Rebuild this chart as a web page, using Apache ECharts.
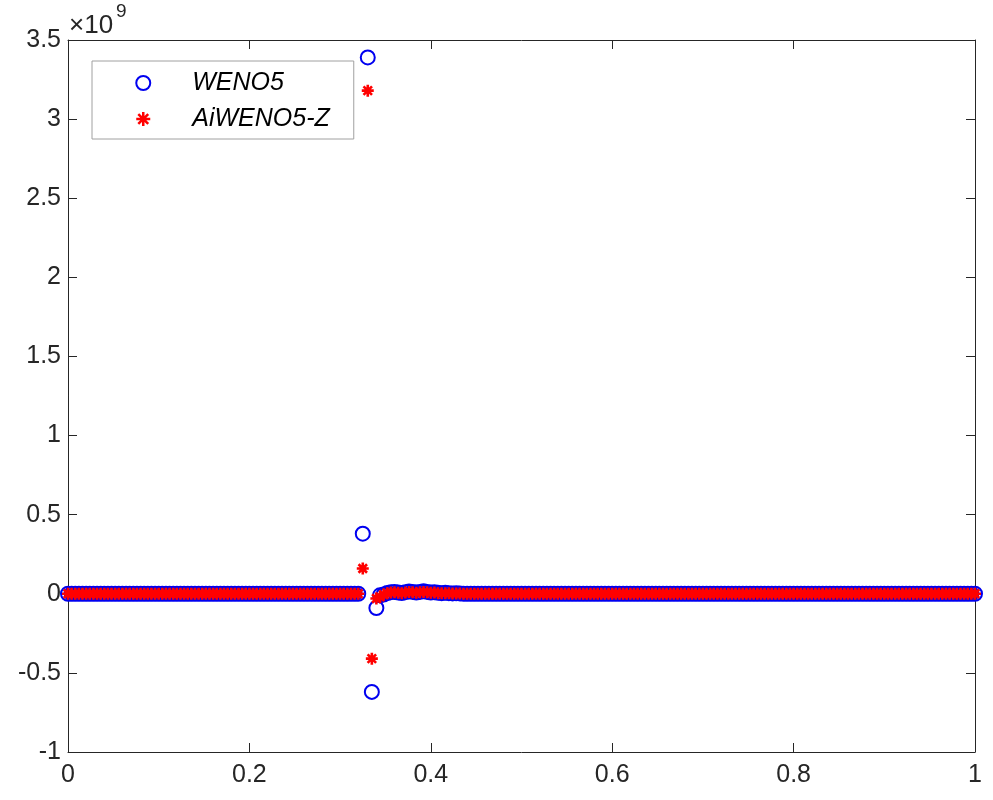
<!DOCTYPE html>
<html>
<head>
<meta charset="utf-8">
<script src="https://cdn.jsdelivr.net/npm/echarts@6/dist/echarts.min.js"></script>
<style>
  html, body { margin: 0; padding: 0; background: #fff; }
  #chart { width: 993px; height: 800px; }
</style>
</head>
<body>
<div id="chart"></div>
<script>
// mesh points (x), band left of shock, points across shock, band right of shock
const meshX = [
  0, 0.004, 0.008, 0.012, 0.016, 0.02, 0.024, 0.028, 0.032, 0.036,
  0.04, 0.044, 0.048, 0.052, 0.056, 0.06, 0.064, 0.068, 0.072, 0.076,
  0.08, 0.084, 0.088, 0.092, 0.096, 0.1, 0.104, 0.108, 0.112, 0.116,
  0.12, 0.124, 0.128, 0.132, 0.136, 0.14, 0.144, 0.148, 0.152, 0.156,
  0.16, 0.164, 0.168, 0.172, 0.176, 0.18, 0.184, 0.188, 0.192, 0.196,
  0.2, 0.204, 0.208, 0.212, 0.216, 0.22, 0.224, 0.228, 0.232, 0.236,
  0.24, 0.244, 0.248, 0.252, 0.256, 0.26, 0.264, 0.268, 0.272, 0.276,
  0.28, 0.284, 0.288, 0.292, 0.296, 0.3, 0.304, 0.308, 0.312, 0.316,
  0.32,
  0.325, 0.3305, 0.335, 0.34,
  0.344, 0.348, 0.352, 0.356, 0.36, 0.364, 0.368, 0.372, 0.376, 0.38,
  0.384, 0.388, 0.392, 0.396, 0.4, 0.404, 0.408, 0.412, 0.416, 0.42,
  0.424, 0.428, 0.432, 0.436, 0.44, 0.444, 0.448, 0.452, 0.456, 0.46,
  0.464, 0.468, 0.472, 0.476, 0.48, 0.484, 0.488, 0.492, 0.496, 0.5,
  0.504, 0.508, 0.512, 0.516, 0.52, 0.524, 0.528, 0.532, 0.536, 0.54,
  0.544, 0.548, 0.552, 0.556, 0.56, 0.564, 0.568, 0.572, 0.576, 0.58,
  0.584, 0.588, 0.592, 0.596, 0.6, 0.604, 0.608, 0.612, 0.616, 0.62,
  0.624, 0.628, 0.632, 0.636, 0.64, 0.644, 0.648, 0.652, 0.656, 0.66,
  0.664, 0.668, 0.672, 0.676, 0.68, 0.684, 0.688, 0.692, 0.696, 0.7,
  0.704, 0.708, 0.712, 0.716, 0.72, 0.724, 0.728, 0.732, 0.736, 0.74,
  0.744, 0.748, 0.752, 0.756, 0.76, 0.764, 0.768, 0.772, 0.776, 0.78,
  0.784, 0.788, 0.792, 0.796, 0.8, 0.804, 0.808, 0.812, 0.816, 0.82,
  0.824, 0.828, 0.832, 0.836, 0.84, 0.844, 0.848, 0.852, 0.856, 0.86,
  0.864, 0.868, 0.872, 0.876, 0.88, 0.884, 0.888, 0.892, 0.896, 0.9,
  0.904, 0.908, 0.912, 0.916, 0.92, 0.924, 0.928, 0.932, 0.936, 0.94,
  0.944, 0.948, 0.952, 0.956, 0.96, 0.964, 0.968, 0.972, 0.976, 0.98,
  0.984, 0.988, 0.992, 0.996, 1
];

// values in units of 1e9 (axis shows x10^9)
const wenoY = [
  0, 0, 0, 0, 0, 0, 0, 0, 0, 0,
  0, 0, 0, 0, 0, 0, 0, 0, 0, 0,
  0, 0, 0, 0, 0, 0, 0, 0, 0, 0,
  0, 0, 0, 0, 0, 0, 0, 0, 0, 0,
  0, 0, 0, 0, 0, 0, 0, 0, 0, 0,
  0, 0, 0, 0, 0, 0, 0, 0, 0, 0,
  0, 0, 0, 0, 0, 0, 0, 0, 0, 0,
  0, 0, 0, 0, 0, 0, 0, 0, 0, 0,
  0,
  0.38, 3.39, -0.62, -0.09,
  -0.01, -0.005, 0.005, 0.01, 0.012, 0.008, 0.005, 0.01, 0.015, 0.012,
  0.008, 0.012, 0.016, 0.012, 0.008, 0.01, 0.006, 0.004, 0.006, 0.004,
  0.002, 0.003, 0.002, 0, 0, 0, 0, 0, 0, 0,
  0, 0, 0, 0, 0, 0, 0, 0, 0, 0,
  0, 0, 0, 0, 0, 0, 0, 0, 0, 0,
  0, 0, 0, 0, 0, 0, 0, 0, 0, 0,
  0, 0, 0, 0, 0, 0, 0, 0, 0, 0,
  0, 0, 0, 0, 0, 0, 0, 0, 0, 0,
  0, 0, 0, 0, 0, 0, 0, 0, 0, 0,
  0, 0, 0, 0, 0, 0, 0, 0, 0, 0,
  0, 0, 0, 0, 0, 0, 0, 0, 0, 0,
  0, 0, 0, 0, 0, 0, 0, 0, 0, 0,
  0, 0, 0, 0, 0, 0, 0, 0, 0, 0,
  0, 0, 0, 0, 0, 0, 0, 0, 0, 0,
  0, 0, 0, 0, 0, 0, 0, 0, 0, 0,
  0, 0, 0, 0, 0, 0, 0, 0, 0, 0,
  0, 0, 0, 0, 0
];

const aiwenoY = [
  0, 0, 0, 0, 0, 0, 0, 0, 0, 0,
  0, 0, 0, 0, 0, 0, 0, 0, 0, 0,
  0, 0, 0, 0, 0, 0, 0, 0, 0, 0,
  0, 0, 0, 0, 0, 0, 0, 0, 0, 0,
  0, 0, 0, 0, 0, 0, 0, 0, 0, 0,
  0, 0, 0, 0, 0, 0, 0, 0, 0, 0,
  0, 0, 0, 0, 0, 0, 0, 0, 0, 0,
  0, 0, 0, 0, 0, 0, 0, 0, 0, 0,
  0,
  0.16, 3.18, -0.41, -0.03,
  -0.02, -0.005, 0.004, 0.008, 0.01, 0.006, 0.004, 0.008, 0.012, 0.01,
  0.006, 0.01, 0.012, 0.01, 0.006, 0.008, 0.004, 0.003, 0.004, 0.003,
  0.001, 0.002, 0.001, 0, 0, 0, 0, 0, 0, 0,
  0, 0, 0, 0, 0, 0, 0, 0, 0, 0,
  0, 0, 0, 0, 0, 0, 0, 0, 0, 0,
  0, 0, 0, 0, 0, 0, 0, 0, 0, 0,
  0, 0, 0, 0, 0, 0, 0, 0, 0, 0,
  0, 0, 0, 0, 0, 0, 0, 0, 0, 0,
  0, 0, 0, 0, 0, 0, 0, 0, 0, 0,
  0, 0, 0, 0, 0, 0, 0, 0, 0, 0,
  0, 0, 0, 0, 0, 0, 0, 0, 0, 0,
  0, 0, 0, 0, 0, 0, 0, 0, 0, 0,
  0, 0, 0, 0, 0, 0, 0, 0, 0, 0,
  0, 0, 0, 0, 0, 0, 0, 0, 0, 0,
  0, 0, 0, 0, 0, 0, 0, 0, 0, 0,
  0, 0, 0, 0, 0, 0, 0, 0, 0, 0,
  0, 0, 0, 0, 0
];

const seriesNames = ['WENO5', 'AiWENO5-Z'];

const axisColor = '#262626';
const font = "'Liberation Sans', Arial, Helvetica, sans-serif";
const blue = '#0000f0';
const red = '#ff0000';
// asterisk marker like matlab '*'
const starPath = 'path://M5,0L5,10M0,5L10,5M1.46,1.46L8.54,8.54M1.46,8.54L8.54,1.46';

const chart = echarts.init(document.getElementById('chart'));

const xAxisBase = {
    type: 'value',
    min: 0,
    max: 1,
    interval: 0.2,
    splitLine: { show: false },
    axisLine: { show: true, onZero: false, lineStyle: { color: axisColor, width: 1 } },
    axisTick: { show: true, inside: true, length: 9, lineStyle: { color: axisColor } }
};
const yAxisBase = {
    type: 'value',
    min: -1,
    max: 3.5,
    interval: 0.5,
    splitLine: { show: false },
    axisLine: { show: true, onZero: false, lineStyle: { color: axisColor, width: 1 } },
    axisTick: { show: true, inside: true, length: 9, lineStyle: { color: axisColor } }
};

const option = {
    animation: false,
    backgroundColor: '#fff',
    grid: { left: 68, right: 18, top: 40, bottom: 48, containLabel: false },
    xAxis: [
        {
            ...xAxisBase,
            position: 'bottom',
            axisLabel: { color: axisColor, fontSize: 25, fontFamily: font, margin: 11 }
        },
        {
            ...xAxisBase,
            position: 'top',
            axisLabel: { show: false }
        }
    ],
    yAxis: [
        {
            ...yAxisBase,
            position: 'left',
            axisLabel: { color: axisColor, fontSize: 25, fontFamily: font, margin: 7 }
        },
        {
            ...yAxisBase,
            position: 'right',
            axisLabel: { show: false }
        }
    ],
    legend: {
        orient: 'vertical',
        left: 92,
        top: 61,
        padding: [8, 24, 6, 43],
        itemGap: 8,
        itemWidth: 14,
        itemHeight: 14,
        backgroundColor: '#fff',
        borderColor: '#a0a0a0',
        borderWidth: 1,
        borderRadius: 0,
        selectedMode: false,
        textStyle: {
            color: '#000',
            fontSize: 25,
            fontStyle: 'italic',
            fontFamily: font,
            lineHeight: 28,
            padding: [0, 0, 0, 37]
        },
        data: [
            { name: seriesNames[0], icon: 'circle', itemStyle: { color: 'rgba(0,0,0,0)', borderColor: blue, borderWidth: 2 } },
            { name: seriesNames[1], icon: starPath, itemStyle: { color: red, borderColor: red, borderWidth: 2.5 } }
        ]
    },
    graphic: [
        { type: 'text', left: 69, top: 13, style: { text: '×10', fontSize: 26, fontFamily: font, fill: axisColor } },
        { type: 'text', left: 116, top: 2, style: { text: '9', fontSize: 19, fontFamily: font, fill: axisColor } }
    ],
    series: [
        {
            name: seriesNames[0],
            type: 'scatter',
            symbol: 'circle',
            symbolSize: 14,
            silent: true,
            itemStyle: { color: 'rgba(0,0,0,0)', borderColor: blue, borderWidth: 2, opacity: 1 },
            data: meshX.map((x, i) => [x, wenoY[i]])
        },
        {
            name: seriesNames[1],
            type: 'scatter',
            symbol: starPath,
            symbolSize: 12,
            silent: true,
            itemStyle: { color: red, borderColor: red, borderWidth: 2.6, opacity: 1 },
            data: meshX.map((x, i) => [x, aiwenoY[i]])
        }
    ]
};

chart.setOption(option);
</script>
</body>
</html>
